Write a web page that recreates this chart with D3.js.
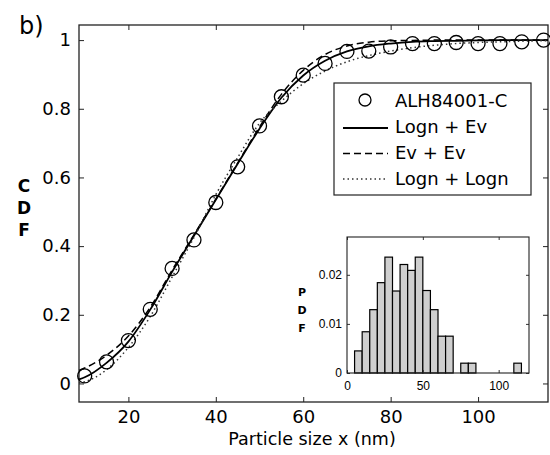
<!DOCTYPE html>
<html lang="en">
<head>
    <meta charset="utf-8">
    <script src="https://d3js.org/d3.v7.min.js"></script>
    <style>
        body { margin: 0; background: #fff; }
        text { font-family: "DejaVu Sans", sans-serif; fill: #000; }
    </style>
</head>
<body>
    <script type="text/javascript">

        let w = 550;
        let h = 455;

        // measured points (ALH84001-C)
        let sizes = [10, 15, 20, 25, 30, 35, 40, 45, 50, 55, 60, 65, 70, 75, 80, 85, 90, 95, 100, 105, 110, 115];
        let cdf = [0.022, 0.063, 0.125, 0.216, 0.335, 0.418, 0.527, 0.631, 0.75, 0.835, 0.898, 0.932, 0.967, 0.968, 0.98, 0.99, 0.99, 0.993, 0.99, 0.99, 0.995, 1.0];

        // fitted curves
        let fitX = [8.7, 10, 15, 20, 25, 30, 35, 40, 45, 50, 55, 60, 65, 70, 75, 80, 85, 90, 95, 100, 105, 110, 116];
        let lognEv = [0.012, 0.018, 0.06, 0.122, 0.215, 0.325, 0.43, 0.535, 0.64, 0.742, 0.832, 0.897, 0.94, 0.967, 0.982, 0.99, 0.995, 0.997, 0.998, 0.999, 1, 1, 1];
        let evEv = [0.038, 0.045, 0.082, 0.138, 0.222, 0.33, 0.433, 0.537, 0.642, 0.747, 0.842, 0.912, 0.958, 0.983, 0.994, 0.998, 0.999, 1, 1, 1, 1, 1, 1];
        let lognLogn = [0.002, 0.005, 0.04, 0.105, 0.195, 0.31, 0.425, 0.55, 0.658, 0.758, 0.822, 0.873, 0.91, 0.937, 0.955, 0.968, 0.978, 0.985, 0.99, 0.993, 0.995, 0.997, 0.998];

        // histogram (inset)
        let binLeft = [5, 10, 15, 20, 25, 30, 35, 40, 45, 50, 55, 60, 65, 75, 80, 110];
        let pdf = [0.0045, 0.0084, 0.0129, 0.0184, 0.0236, 0.0167, 0.0221, 0.0209, 0.0236, 0.0168, 0.0129, 0.0075, 0.0075, 0.002, 0.002, 0.002];
        let binWidth = 5;

        let xTicks = [20, 40, 60, 80, 100];
        let yTicks = [0, 0.2, 0.4, 0.6, 0.8, 1];
        let yTickLabels = ["0", "0.2", "0.4", "0.6", "0.8", "1"];
        let insetXTicks = [0, 50, 100];
        let insetYTicks = [0, 0.01, 0.02];
        let insetYTickLabels = ["0", "0.01", "0.02"];

        let legendNames = ["ALH84001-C", "Logn + Ev", "Ev + Ev", "Logn + Logn"];

        let svg = d3.select("body").append("svg")
                    .attr("width", w)
                    .attr("height", h);

        // main plot area
        let mLeft = 79, mRight = 548, mTop = 25, mBottom = 402;

        let x = d3.scaleLinear().domain([8.7, 116]).range([mLeft, mRight]);
        let y = d3.scaleLinear().domain([-0.054, 1.044]).range([mBottom, mTop]);

        let styleAxis = function(g, size) {
            g.select(".domain").remove();
            g.selectAll("line").attr("stroke", "#222");
            g.selectAll("text").style("font-size", size + "px").attr("fill", "#000");
        };

        svg.append("g")
            .attr("transform", "translate(0," + mBottom + ")")
            .call(d3.axisBottom(x).tickValues(xTicks).tickSizeInner(-5).tickSizeOuter(0).tickPadding(8))
            .call(styleAxis, 18);

        svg.append("g")
            .attr("transform", "translate(0," + mTop + ")")
            .call(d3.axisTop(x).tickValues(xTicks).tickSizeInner(-5).tickSizeOuter(0).tickFormat(""))
            .call(styleAxis, 18);

        svg.append("g")
            .attr("transform", "translate(" + mLeft + ",0)")
            .call(d3.axisLeft(y).tickValues(yTicks).tickSizeInner(-5).tickSizeOuter(0).tickPadding(8)
                .tickFormat(function(d, i) { return yTickLabels[i]; }))
            .call(styleAxis, 18);

        svg.append("g")
            .attr("transform", "translate(" + mRight + ",0)")
            .call(d3.axisRight(y).tickValues(yTicks).tickSizeInner(-5).tickSizeOuter(0).tickFormat(""))
            .call(styleAxis, 18);

        svg.append("rect")
            .attr("x", mLeft).attr("y", mTop)
            .attr("width", mRight - mLeft).attr("height", mBottom - mTop)
            .attr("fill", "none").attr("stroke", "#222").attr("stroke-width", 1.3);

        // curves
        let line = d3.line()
                     .x(function(d) { return x(d[0]); })
                     .y(function(d) { return y(d[1]); })
                     .curve(d3.curveMonotoneX);

        let curves = [
            { vals: lognEv, dash: null, width: 1.8, color: "#000" },
            { vals: evEv, dash: "7,4", width: 1.5, color: "#000" },
            { vals: lognLogn, dash: "1.5,3", width: 1.5, color: "#333" }
        ];

        svg.selectAll("path.fit")
            .data(curves)
            .join("path")
                .attr("class", "fit")
                .attr("d", function(c) { return line(fitX.map(function(v, i) { return [v, c.vals[i]]; })); })
                .attr("fill", "none")
                .attr("stroke", function(c) { return c.color; })
                .attr("stroke-width", function(c) { return c.width; })
                .attr("stroke-dasharray", function(c) { return c.dash; });

        svg.selectAll("circle.pt")
            .data(sizes)
            .join("circle")
                .attr("class", "pt")
                .attr("cx", function(d) { return x(d); })
                .attr("cy", function(d, i) { return y(cdf[i]); })
                .attr("r", 7)
                .attr("fill", "none")
                .attr("stroke", "#000")
                .attr("stroke-width", 1.3);

        // labels
        svg.append("text").text("b)")
            .attr("x", 19).attr("y", 34)
            .style("font-size", "24px");

        svg.selectAll("text.ylab")
            .data(["C", "D", "F"])
            .join("text")
                .attr("class", "ylab")
                .text(function(d) { return d; })
                .attr("x", 24)
                .attr("y", function(d, i) { return 192 + i * 22; })
                .attr("text-anchor", "middle")
                .style("font-size", "17px")
                .style("font-weight", "bold");

        svg.append("text").text("Particle size x (nm)")
            .attr("x", 312).attr("y", 445)
            .attr("text-anchor", "middle")
            .style("font-size", "17.5px");

        // legend
        let lg = svg.append("g");
        lg.append("rect")
            .attr("x", 334).attr("y", 83).attr("width", 197).attr("height", 112)
            .attr("fill", "#fff").attr("stroke", "#222").attr("stroke-width", 1.2);

        lg.append("circle")
            .attr("cx", 365).attr("cy", 100).attr("r", 6)
            .attr("fill", "none").attr("stroke", "#000").attr("stroke-width", 1.3);

        lg.selectAll("line.key")
            .data(curves)
            .join("line")
                .attr("class", "key")
                .attr("x1", 343).attr("x2", 388)
                .attr("y1", function(d, i) { return 128 + i * 25.5; })
                .attr("y2", function(d, i) { return 128 + i * 25.5; })
                .attr("stroke", function(c) { return c.color; })
                .attr("stroke-width", function(c) { return c.width; })
                .attr("stroke-dasharray", function(c) { return c.dash; });

        lg.selectAll("text.key")
            .data(legendNames)
            .join("text")
                .attr("class", "key")
                .text(function(d) { return d; })
                .attr("x", 395)
                .attr("y", function(d, i) { return 106.5 + i * 26; })
                .style("font-size", "18px");

        // inset histogram
        let iLeft = 347, iRight = 529, iTop = 237, iBottom = 373;
        let ix = d3.scaleLinear().domain([0, 120]).range([iLeft, iRight]);
        let iy = d3.scaleLinear().domain([0, 0.0277]).range([iBottom, iTop]);

        let ins = svg.append("g");
        ins.append("rect")
            .attr("x", iLeft).attr("y", iTop)
            .attr("width", iRight - iLeft).attr("height", iBottom - iTop)
            .attr("fill", "#fff");

        ins.selectAll("rect.bar")
            .data(binLeft)
            .join("rect")
                .attr("class", "bar")
                .attr("x", function(d) { return ix(d); })
                .attr("y", function(d, i) { return iy(pdf[i]); })
                .attr("width", function(d) { return ix(d + binWidth) - ix(d); })
                .attr("height", function(d, i) { return iBottom - iy(pdf[i]); })
                .attr("fill", "#cfcfcf")
                .attr("stroke", "#000")
                .attr("stroke-width", 1.2);

        let styleInset = function(g) {
            g.select(".domain").remove();
            g.selectAll("line").attr("stroke", "#333");
            g.selectAll("text").style("font-size", "12px")
                .style("font-family", "'Liberation Sans', Arial, sans-serif")
                .attr("fill", "#333");
        };

        ins.append("g")
            .attr("transform", "translate(0," + iBottom + ")")
            .call(d3.axisBottom(ix).tickValues(insetXTicks).tickSizeInner(-3).tickSizeOuter(0).tickPadding(8))
            .call(styleInset);

        ins.append("g")
            .attr("transform", "translate(0," + iTop + ")")
            .call(d3.axisTop(ix).tickValues(insetXTicks).tickSizeInner(-3).tickSizeOuter(0).tickFormat(""))
            .call(styleInset);

        ins.append("g")
            .attr("transform", "translate(" + iLeft + ",0)")
            .call(d3.axisLeft(iy).tickValues(insetYTicks).tickSizeInner(-3).tickSizeOuter(0).tickPadding(5)
                .tickFormat(function(d, i) { return insetYTickLabels[i]; }))
            .call(styleInset);

        ins.append("g")
            .attr("transform", "translate(" + iRight + ",0)")
            .call(d3.axisRight(iy).tickValues(insetYTicks).tickSizeInner(-3).tickSizeOuter(0).tickFormat(""))
            .call(styleInset);

        ins.append("rect")
            .attr("x", iLeft).attr("y", iTop)
            .attr("width", iRight - iLeft).attr("height", iBottom - iTop)
            .attr("fill", "none").attr("stroke", "#222").attr("stroke-width", 1.1);

        ins.selectAll("text.plab")
            .data(["P", "D", "F"])
            .join("text")
                .attr("class", "plab")
                .text(function(d) { return d; })
                .attr("x", 302)
                .attr("y", function(d, i) { return 296 + i * 18; })
                .attr("text-anchor", "middle")
                .style("font-size", "11px")
                .style("font-weight", "bold")
                .attr("fill", "#333");

    </script>
</body>
</html>
